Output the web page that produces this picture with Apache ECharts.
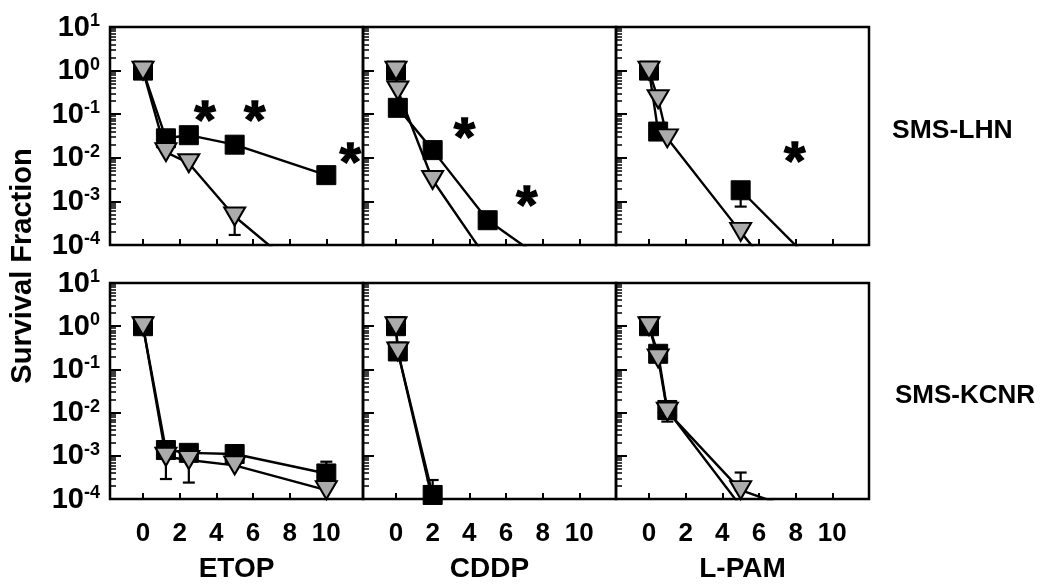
<!DOCTYPE html>
<html><head><meta charset="utf-8">
<script src="https://cdn.jsdelivr.net/npm/echarts@6/dist/echarts.min.js"></script>
<style>html,body{margin:0;padding:0;background:#fff}#c{width:1050px;height:586px}</style>
</head><body><div id="c"></div>
<script>
// ---------- data ----------
const drugs = ['ETOP', 'CDDP', 'L-PAM'];
const cellLines = ['SMS-LHN', 'SMS-KCNR'];
const xTicks = [0, 2, 4, 6, 8, 10];
const yTickExps = [-4, -3, -2, -1, 0, 1];

const etopDoses = [0, 1.25, 2.5, 5, 10];
const cddpDoses = [0, 0.1, 2, 5, 10];
const lpamDoses = [0, 0.5, 1, 5, 10];

// SMS-LHN
const lhnEtopSquare = [1.0, 0.028, 0.033, 0.020, 0.0040];
const lhnEtopTriangle = [1.0, 0.0135, 0.0075, 0.00045, 0.000008];
const lhnCddpSquare = [1.0, 0.14, 0.015, 0.00037, 0.000012];
const lhnCddpTriangle = [1.0, 0.35, 0.0031, 0.000045, null];
const lhnLpamSquare = [1.0, 0.04, null, 0.0018, 0.000014];
const lhnLpamTriangle = [1.0, 0.22, 0.028, 0.00020, 0.0000005];

// SMS-KCNR
const kcnrEtopSquare = [1.0, 0.00136, 0.00117, 0.0011, 0.00039];
const kcnrEtopTriangle = [1.0, 0.00095, 0.0008, 0.0006, 0.00016];
const kcnrCddpSquare = [1.0, 0.26, 0.000124, null, null];
const kcnrCddpTriangle = [1.0, 0.26, 0.00009, null, null];
const kcnrLpamSquare = [1.0, 0.23, 0.0115, 0.000068, null];
const kcnrLpamTriangle = [1.0, 0.18, 0.0105, 0.00016, 0.000029];

// error bars: [dose, low, high]
const lhnEtopErr = [[5, 0.00017, 0.00065]];
const lhnCddpErr = [];
const lhnLpamErr = [[5, 0.00076, 0.0018]];
const kcnrEtopErr = [[1.25, 0.00095, 0.0019], [1.25, 0.00029, 0.00095], [2.5, 0.00024, 0.0008], [10, 0.00039, 0.00073]];
const kcnrCddpErr = [[2, 0.000124, 0.000275]];
const kcnrLpamErr = [[1, 0.0062, 0.0115], [5, 0.00016, 0.00041]];

// significance asterisks: [dose, fraction]
const lhnEtopStars = [[3.38, 0.105], [6.1, 0.105], [11.3, 0.0115]];
const lhnCddpStars = [[3.73, 0.044], [7.13, 0.00117]];
const lhnLpamStars = [[7.95, 0.0123]];
const kcnrEtopStars = [];
const kcnrCddpStars = [];
const kcnrLpamStars = [];

// ---------- build ----------
const FONT = '"Liberation Sans", Arial, Helvetica, sans-serif';
const panels = [
  {doses: etopDoses, sq: lhnEtopSquare, tri: lhnEtopTriangle, err: lhnEtopErr, stars: lhnEtopStars},
  {doses: cddpDoses, sq: lhnCddpSquare, tri: lhnCddpTriangle, err: lhnCddpErr, stars: lhnCddpStars},
  {doses: lpamDoses, sq: lhnLpamSquare, tri: lhnLpamTriangle, err: lhnLpamErr, stars: lhnLpamStars},
  {doses: etopDoses, sq: kcnrEtopSquare, tri: kcnrEtopTriangle, err: kcnrEtopErr, stars: kcnrEtopStars},
  {doses: cddpDoses, sq: kcnrCddpSquare, tri: kcnrCddpTriangle, err: kcnrCddpErr, stars: kcnrCddpStars},
  {doses: lpamDoses, sq: kcnrLpamSquare, tri: kcnrLpamTriangle, err: kcnrLpamErr, stars: kcnrLpamStars}
];

const colLeft = [110, 363, 616];
const colWidth = 253;
const rowTop = [27, 283];
const rowHeight = [218, 216];

const minorLogs = [];
for (let e = -4; e < 1; e++) for (let k = 2; k <= 9; k++) minorLogs.push(e + Math.log10(k));

const grid = [], xAxis = [], yAxis = [], series = [];
panels.forEach((p, i) => {
  const row = Math.floor(i / 3), col = i % 3;
  grid.push({left: colLeft[col], top: rowTop[row], width: colWidth, height: rowHeight[row],
    show: true, borderColor: '#000', borderWidth: 2.5, backgroundColor: 'transparent', containLabel: false});
  xAxis.push({
    type: 'value', gridIndex: i, min: -1.8, max: 12, position: 'bottom',
    name: row === 1 ? drugs[col] : '', nameLocation: 'middle', nameGap: 56,
    nameTextStyle: {fontFamily: FONT, fontWeight: 'bold', fontSize: 28, color: '#000'},
    axisLine: {show: false, onZero: false},
    axisTick: {show: true, inside: true, length: 6, customValues: xTicks, lineStyle: {color: '#000', width: 2}},
    axisLabel: {show: row === 1, customValues: xTicks, margin: 22, fontFamily: FONT, fontWeight: 'bold', fontSize: 26, color: '#000'},
    splitLine: {show: false}
  });
  yAxis.push({
    type: 'log', logBase: 10, gridIndex: i, min: 1e-4, max: 10, position: 'left',
    axisLine: {show: false, onZero: false},
    axisTick: {show: true, inside: true, length: 11, lineStyle: {color: '#000', width: 2}},
    axisLabel: {show: col === 0, margin: 10,
      formatter: v => '{b|10}{s|' + Math.round(Math.log10(v)) + '}',
      rich: {
        b: {fontFamily: FONT, fontWeight: 'bold', fontSize: 29, color: '#000', verticalAlign: 'bottom', lineHeight: 30},
        s: {fontFamily: FONT, fontWeight: 'bold', fontSize: 18, color: '#000', verticalAlign: 'top', lineHeight: 18}
      }},
    splitLine: {show: false}
  });
  yAxis.push({
    type: 'value', gridIndex: i, min: -4, max: 1, position: 'left',
    axisLine: {show: false, onZero: false},
    axisTick: {show: true, inside: true, length: 6, customValues: minorLogs, lineStyle: {color: '#000', width: 1.5}},
    axisLabel: {show: false}, splitLine: {show: false}
  });
  const yi = 2 * i;
  series.push({
    type: 'custom', xAxisIndex: i, yAxisIndex: yi, z: 1, clip: true,
    data: p.err, encode: {x: 0, y: [1, 2]},
    renderItem: (params, api) => {
      const x = api.value(0), lo = api.value(1), hi = api.value(2);
      const a = api.coord([x, lo]), b = api.coord([x, hi]);
      const w = 6, st = {stroke: '#000', lineWidth: 2.2};
      return {type: 'group', children: [
        {type: 'line', shape: {x1: a[0], y1: a[1], x2: b[0], y2: b[1]}, style: st},
        {type: 'line', shape: {x1: a[0] - w, y1: a[1], x2: a[0] + w, y2: a[1]}, style: st},
        {type: 'line', shape: {x1: b[0] - w, y1: b[1], x2: b[0] + w, y2: b[1]}, style: st}
      ]};
    }
  });
  series.push({
    type: 'line', xAxisIndex: i, yAxisIndex: yi, clip: true, z: 2,
    data: p.doses.map((d, k) => [d, p.sq[k]]),
    symbol: 'rect', symbolSize: 19, showAllSymbol: true,
    lineStyle: {color: '#000', width: 2.4},
    itemStyle: {color: '#000', borderColor: '#000', borderWidth: 1},
    animation: false
  });
  series.push({
    type: 'line', xAxisIndex: i, yAxisIndex: yi, clip: true, z: 3,
    data: p.doses.map((d, k) => [d, p.tri[k]]),
    symbol: 'triangle', symbolRotate: 180, symbolSize: [21, 18], showAllSymbol: true,
    lineStyle: {color: '#000', width: 2.4},
    itemStyle: {color: '#ababab', borderColor: '#000', borderWidth: 2},
    animation: false
  });
  if (p.stars.length) series.push({
    type: 'custom', xAxisIndex: i, yAxisIndex: yi, z: 4,
    data: p.stars, encode: {x: 0, y: 1},
    renderItem: (params, api) => {
      const c = api.coord([api.value(0), api.value(1)]);
      return {type: 'text', x: c[0], y: c[1] + 10, silent: true,
        style: {text: '*', fontFamily: FONT, fontWeight: 'bold', fontSize: 54,
          fill: '#000', stroke: '#000', lineWidth: 1.5, align: 'center', verticalAlign: 'middle'}};
    },
    animation: false
  });
});

const chart = echarts.init(document.getElementById('c'), null, {renderer: 'canvas'});
chart.setOption({
  animation: false,
  backgroundColor: '#fff',
  grid, xAxis, yAxis, series,
  graphic: [
    {type: 'text', x: 23, y: 266, rotation: Math.PI / 2,
      style: {text: 'Survival Fraction', fontFamily: FONT, fontWeight: 'bold', fontSize: 29, fill: '#000', align: 'center', verticalAlign: 'middle'}},
    {type: 'text', x: 892, y: 131,
      style: {text: cellLines[0], fontFamily: FONT, fontWeight: 'bold', fontSize: 26.5, fill: '#000', align: 'left', verticalAlign: 'middle'}},
    {type: 'text', x: 895, y: 396,
      style: {text: cellLines[1], fontFamily: FONT, fontWeight: 'bold', fontSize: 26, fill: '#000', align: 'left', verticalAlign: 'middle'}}
  ]
});
</script></body></html>
